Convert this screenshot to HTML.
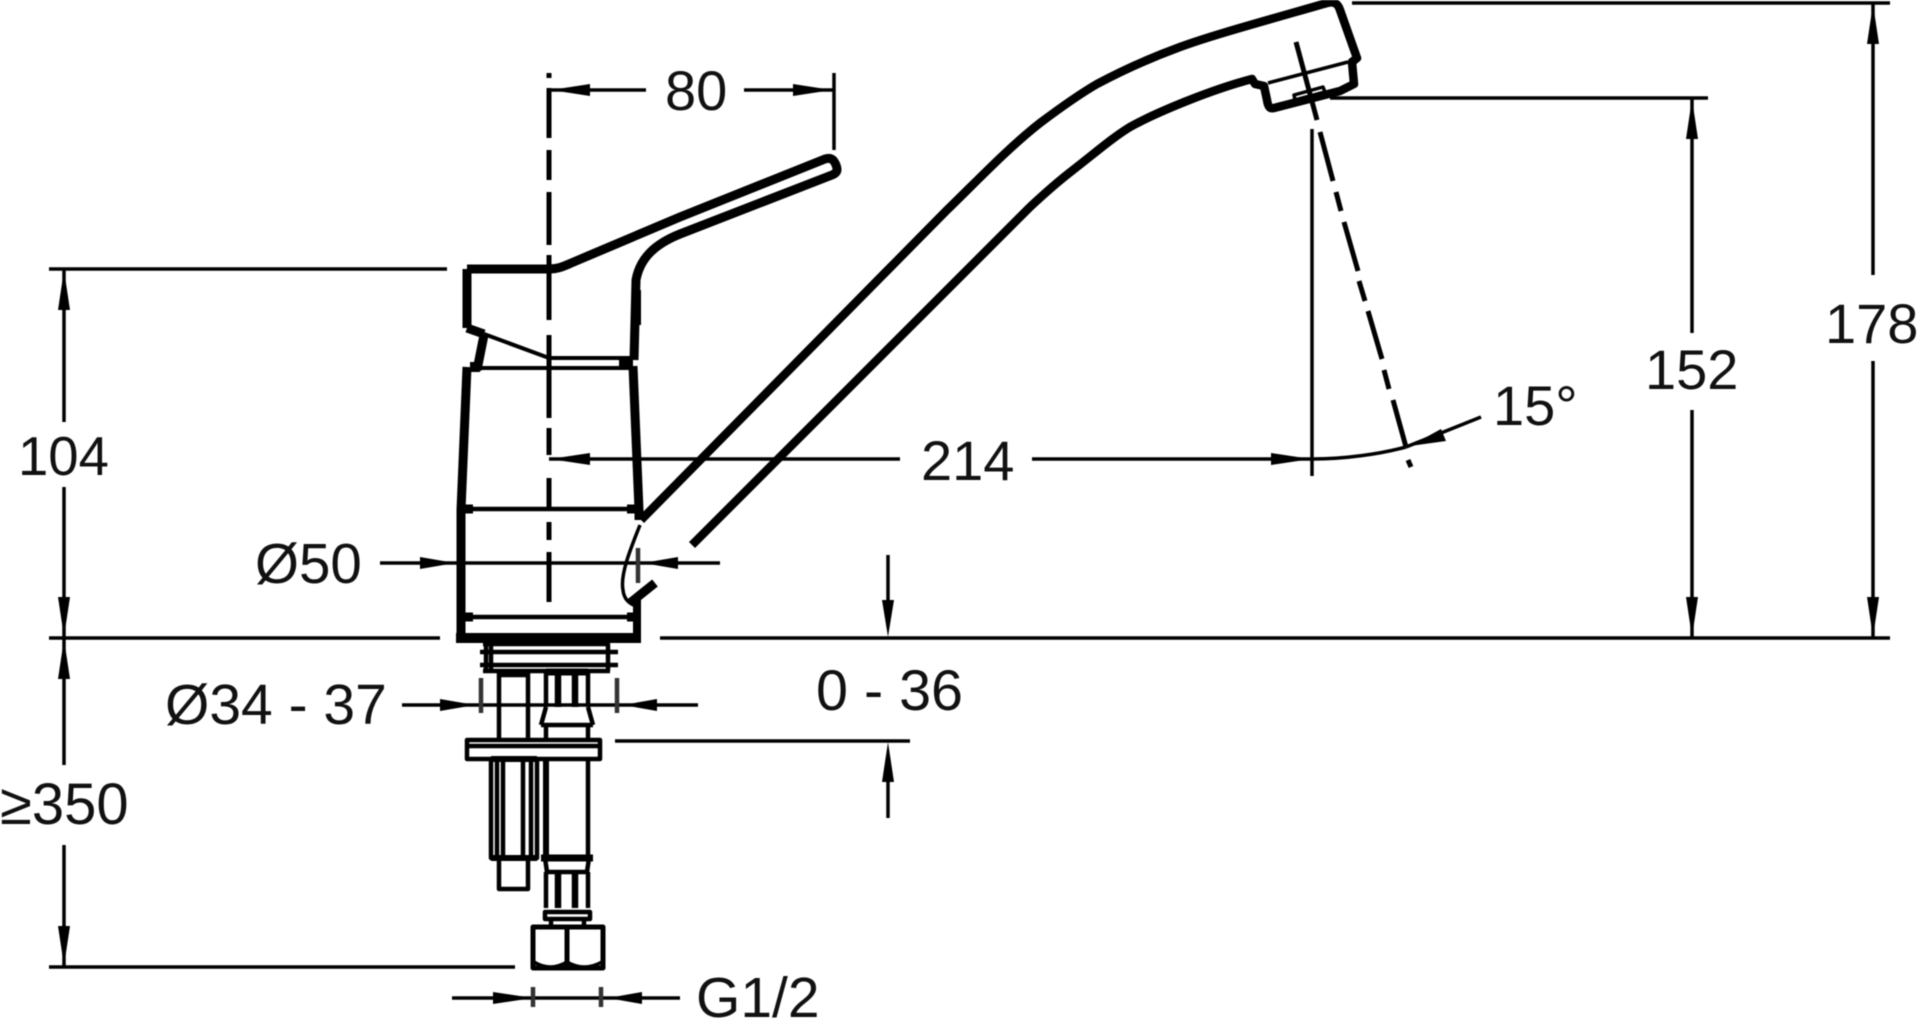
<!DOCTYPE html>
<html lang="en">
<head>
<meta charset="utf-8">
<title>Faucet dimensions</title>
<style>
html,body{margin:0;padding:0;background:#fff;width:1920px;height:1020px;overflow:hidden}
svg{display:block;filter:blur(0.5px)}
text{font-family:"Liberation Sans",sans-serif;font-size:56px;fill:#111}
</style>
</head>
<body>
<svg width="1920" height="1020" viewBox="0 0 1920 1020" xmlns="http://www.w3.org/2000/svg">
<g fill="none" stroke="#000" stroke-linecap="butt" stroke-linejoin="round">
  <!-- centre line -->
  <path d="M549 73V78M549 88V138M549 150V180M549 192V245M549 255V320M549 335V418M549 428V455M549 478V510M549 522V540M549 552V602" stroke-width="5"/>

  <!-- handle and lever -->
  <g stroke-width="9">
    <path d="M467 269H549C560 269 566 265 576 261L680 217L825 159C831 157 834 160 836 165C838 170 837 173 832 175L680 234C655 244 640 258 636 280L634 360"/>
    <path d="M467 269V328"/>
    <path d="M467 328L484 334"/>
    <path d="M484 335L477 370"/>
    <path d="M467 367L461 510V638"/>
    <path d="M633 366L639 510V520"/>
    <path d="M637 600V638" stroke-width="8"/>
    <path d="M456 638H641" stroke-width="10"/>
  </g>
  <path d="M638 290V325" stroke-width="6"/>
  <path d="M484 334L549 358H625M477 368H625" stroke-width="4"/>
  <path d="M462 509H638M462 617H636" stroke-width="4.5"/>
  <path d="M461 509h12M627 509h12M461 617h12M627 617h12" stroke-width="9"/>
  <rect x="619" y="356" width="14" height="14" fill="#000" stroke="none"/>
  <rect x="470" y="362" width="10" height="10" fill="#000" stroke="none"/>

  <!-- spout -->
  <g stroke-width="8.5">
    <path d="M641 520L947 210C975 183 1008 148 1040 123C1060 108 1078 95 1097 84C1125 69 1150 58 1180 47C1210 36 1250 25 1327 3C1335 1 1338 4 1340 10L1357 58L1352 62L1354 84L1340 91L1274 108C1270 109 1268 107 1267 100L1264 86L1255 84L1252 79C1210 90 1155 113 1130 127C1112 138 1095 153 1073 170C1060 180 1045 193 1030 207L692 545"/>
  </g>
  <path d="M640 525C630 550 620 575 623 590C624 600 630 604 636 606" stroke-width="3.5"/>
  <path d="M630 603L655 583" stroke-width="9"/>
  <path d="M1268 83L1348 62" stroke-width="3.5"/>
  <path d="M1294 95L1323 87L1325 92L1295 100Z" stroke-width="3.5"/>

  <!-- spray axis -->
  <path d="M1296 42L1317 120M1320 132L1333 181M1336 192L1341 211M1344 222L1358 271M1359 281L1365 301M1368 311L1382 359M1384 370L1389 389M1393 400L1406 447M1408 460L1411 467" stroke-width="5"/>

  <!-- extension lines -->
  <g stroke-width="3.5">
    <path d="M49 269H447M49 638H440M660 638H1890M1352 3H1890M1330 98H1708M49 967H515"/>
    <path d="M834 73V150M1312 129V476M888 555V600M888 782V818M615 741H910"/>
  </g>

  <!-- dimension lines -->
  <g stroke-width="3.5">
    <path d="M549 90H646M744 90H834"/>
    <path d="M64 269V422M64 487V638"/>
    <path d="M64 638V765M64 845V967"/>
    <path d="M1692 98V333M1692 410V638"/>
    <path d="M1873 3V275M1873 361V638"/>
    <path d="M549 459H900M1032 459H1312"/>
    <path d="M380 563H720"/>
    <path d="M402 705H698"/>
    <path d="M452 998H680"/>
    <path d="M1312 459C1345 459 1380 454 1406 447"/>
    <path d="M1406 447L1481 417"/>
  </g>
  <path d="M638 548V583M481 678V713M617 678V713M533 987V1007M601 987V1007" stroke-width="4.5" stroke="#333"/>

  <!-- mounting hardware -->
  <g stroke-width="4.5">
    <path d="M483 644H610M480 652H618M480 665H618M483 671H610"/>
    <path d="M486 644V671M491 644V671M608 644V671"/>
    <path d="M499 672V739M528 672V739M499 675H528"/>
    <path d="M546 672V707M588 672V707M546 707L541 725M588 707L593 725M541 725H593M546 725V739M588 725V739"/>
    <path d="M546 759V858" stroke-width="6"/>
    <path d="M588 759V858"/>
    <rect x="467" y="740" width="133" height="19"/>
    <path d="M469 746H598"/>
    <path d="M491 759V858H537V759M497 759V858M503 759V858M523 759V858M531 759V858"/>
    <path d="M499 858V889H528V858"/>
    <path d="M546 872V908M588 872V908M541 858H593"/>
    <path d="M545 858L547 872H587L589 858" />
    <rect x="545" y="912" width="45" height="7"/>
    <path d="M551 919V926M584 919V926"/>
    <rect x="533" y="927" width="70" height="41" stroke-width="5"/>
    <path d="M567 927V968" stroke-width="5"/>
    <path d="M534 962Q550 972 567 962Q584 972 602 962" stroke-width="3.5"/>
  </g>
  <path d="M558 672V707M575 672V707M558 872V908M575 872V908" stroke-width="6.5"/>
  <path d="M546 672H588M541 858H593" stroke-width="7"/>
  <path d="M491 759H537M491 858H537" stroke-width="6"/>
</g>

<!-- arrowheads -->
<g fill="#000" stroke="none">
  <path d="M551 90L590 84V96Z"/>
  <path d="M832 90L793 84V96Z"/>
  <path d="M64 270L58 310H70Z"/>
  <path d="M64 637L58 597H70Z"/>
  <path d="M64 639L58 679H70Z"/>
  <path d="M64 966L58 926H70Z"/>
  <path d="M1692 99L1686 139H1698Z"/>
  <path d="M1692 637L1686 597H1698Z"/>
  <path d="M1873 4L1867 44H1879Z"/>
  <path d="M1873 637L1867 597H1879Z"/>
  <path d="M550 459L590 453V465Z"/>
  <path d="M1311 459L1271 453V465Z"/>
  <path d="M455 563L420 557V569Z"/>
  <path d="M643 563L678 557V569Z"/>
  <path d="M475 705L440 699V711Z"/>
  <path d="M623 705L657 699V711Z"/>
  <path d="M533 998L493 992V1004Z"/>
  <path d="M608 998L642 992V1004Z"/>
  <path d="M888 637L882 600H894Z"/>
  <path d="M888 742L882 782H894Z"/>
  <path d="M1410 446L1441 429L1446 441Z"/>
</g>

<!-- labels -->
<text x="665" y="110">80</text>
<text x="18" y="475" style="font-size:54.5px">104</text>
<text x="921" y="480">214</text>
<text x="1645" y="389">152</text>
<text x="1825" y="343">178</text>
<text x="1493" y="425">15°</text>
<text x="255" y="583" style="font-size:56.5px">Ø50</text>
<text x="165" y="724" style="font-size:57px">Ø34 - 37</text>
<text x="816" y="710" style="font-size:57.5px">0 - 36</text>
<text x="0" y="824" style="font-size:58px">≥350</text>
<text x="696" y="1017" style="font-size:57px">G1/2</text>
</svg>
</body>
</html>
